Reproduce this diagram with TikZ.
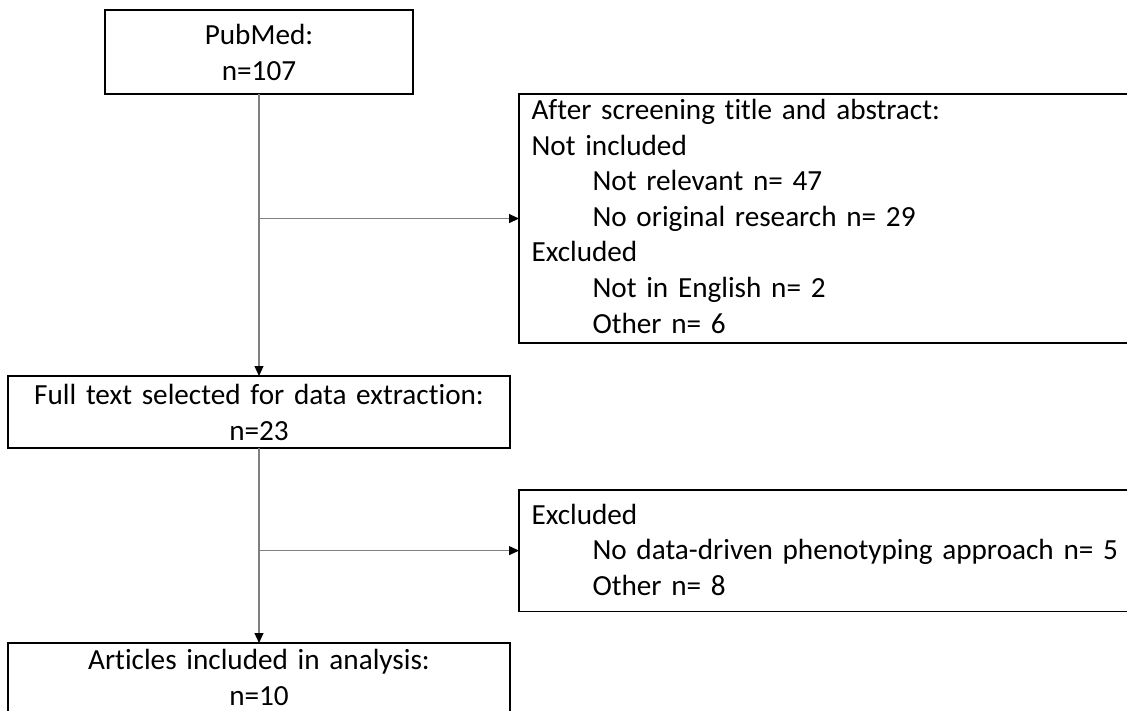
\documentclass[tikz,border=0pt]{standalone}
\usepackage{fontspec}
\setmainfont{Carlito}[Ligatures=NoCommon]
\usetikzlibrary{arrows.meta}
\definecolor{conngray}{RGB}{128,128,128}
\begin{document}
\begin{tikzpicture}[x=1pt,y=-1pt,
  box/.style={draw=black, line width=1.3pt, rectangle, inner ysep=0pt, outer sep=0pt,
    font=\fontsize{29.2pt}{35.6pt}\selectfont},
  cbox/.style={box, align=center, inner xsep=0pt, anchor=north west},
  lbox/.style={box, align=left, inner xsep=12.5pt, anchor=north west, text width=600pt},
  conn/.style={draw=conngray, line width=1.2pt, -{Triangle[length=10pt,width=9pt,color=black]}},
]
\useasboundingbox (0,0) rectangle (1127,711);
\clip (0,0) rectangle (1127,711);

\node[cbox, text width=308pt] (pub) at (105,10)
  {\rule{0pt}{34.5pt}PubMed:\\n=107\rule[-14pt]{0pt}{14pt}};
\node[cbox, text width=502pt] (full) at (8,376)
  {\rule{0pt}{28.5pt}Full text selected for data extraction:\\n=23\rule[-8pt]{0pt}{8pt}};
\node[cbox, text width=502pt] (art) at (8,643)
  {\rule{0pt}{26.8pt}Articles included in analysis:\\n=10\rule[-9.7pt]{0pt}{9.7pt}};

\node[lbox] (scr) at (519,94)
  {\rule{0pt}{25.5pt}After screening title and abstract:\\
   Not included\\
   \hspace*{61pt}Not relevant n= 47\\
   \hspace*{61pt}No original research n= 29\\
   Excluded\\
   \hspace*{61pt}Not in English n= 2\\
   \hspace*{61pt}Other n= 6\rule[-10pt]{0pt}{10pt}};
\node[lbox] (exc) at (519,490)
  {\rule{0pt}{34pt}Excluded\\
   \hspace*{61pt}No data-driven phenotyping approach n= 5\\
   \hspace*{61pt}Other n= 8\rule[-16pt]{0pt}{16pt}};

\draw[conn] (pub.south) -- (full.north);
\draw[conn] (pub.south |- scr.west) -- (scr.west);
\draw[conn] (full.south) -- (art.north);
\draw[conn] (full.south |- exc.west) -- (exc.west);
\end{tikzpicture}
\end{document}
